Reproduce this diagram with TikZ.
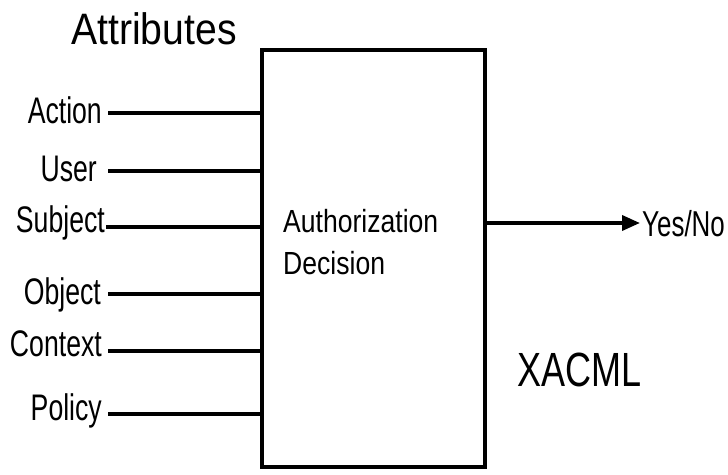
\documentclass[tikz,border=0pt]{standalone}
\usepackage{fontspec}
\setmainfont{Liberation Sans}
\newfontfamily\lblfont[FakeStretch=0.72]{Liberation Sans}
\newfontfamily\ttlfont[FakeStretch=0.89]{Liberation Sans}
\newfontfamily\decfont[FakeStretch=0.83]{Liberation Sans}
\newfontfamily\bigfont[FakeStretch=0.75]{Liberation Sans}
\usetikzlibrary{arrows.meta,calc}

\tikzset{
  wire/.style={line width=3.6pt, line cap=butt},
  attr/.style={anchor=base east, inner sep=0pt, font=\lblfont\fontsize{37}{42}\selectfont},
  box/.style={draw, line width=3.8pt, inner sep=0pt},
}

\begin{document}
\begin{tikzpicture}[x=1pt,y=1pt]
  \useasboundingbox (0,0) rectangle (728,474);

  % decision box
  \node[box, minimum width=223pt, minimum height=417pt, anchor=south west] (pdp) at (260,5) {};

  \node[anchor=base west, inner sep=0pt, font=\ttlfont\fontsize{44}{50}\selectfont] (title) at (71,429) {Attributes};

  % input attributes
  \node[attr] (action)  at (102,350) {Action};
  \node[attr] (user)    at (97,292)  {User};
  \node[attr] (subject) at (105,241) {Subject};
  \node[attr] (object)  at (101,169) {Object};
  \node[attr] (context) at (102,117) {Context};
  \node[attr] (policy)  at (102,54)  {Policy};

  \coordinate (a1) at (108,361);
  \coordinate (a2) at (108,303);
  \coordinate (a3) at (106,247);
  \coordinate (a4) at (108,180);
  \coordinate (a5) at (108,123);
  \coordinate (a6) at (108,60);
  \foreach \c in {a1,a2,a3,a4,a5,a6}
    \draw[wire] (\c) -- (\c -| pdp.west);

  \node[anchor=base west, inner sep=0pt, align=left,
        font=\decfont\fontsize{32}{42}\selectfont] (dec) at (283,199) {Authorization\\Decision};

  % result
  \node[anchor=base west, inner sep=0pt, font=\lblfont\fontsize{36}{40}\selectfont] (out) at (642,237) {Yes/No};
  \coordinate (o1) at (483,251);
  \coordinate (o2) at (640,251);
  \draw[wire, -{Triangle[length=18pt,width=15pt]}] (o1) -- (o2);

  \node[anchor=base west, inner sep=0pt, font=\bigfont\fontsize{48}{52}\selectfont] (xacml) at (517,87) {XACML};
\end{tikzpicture}
\end{document}
